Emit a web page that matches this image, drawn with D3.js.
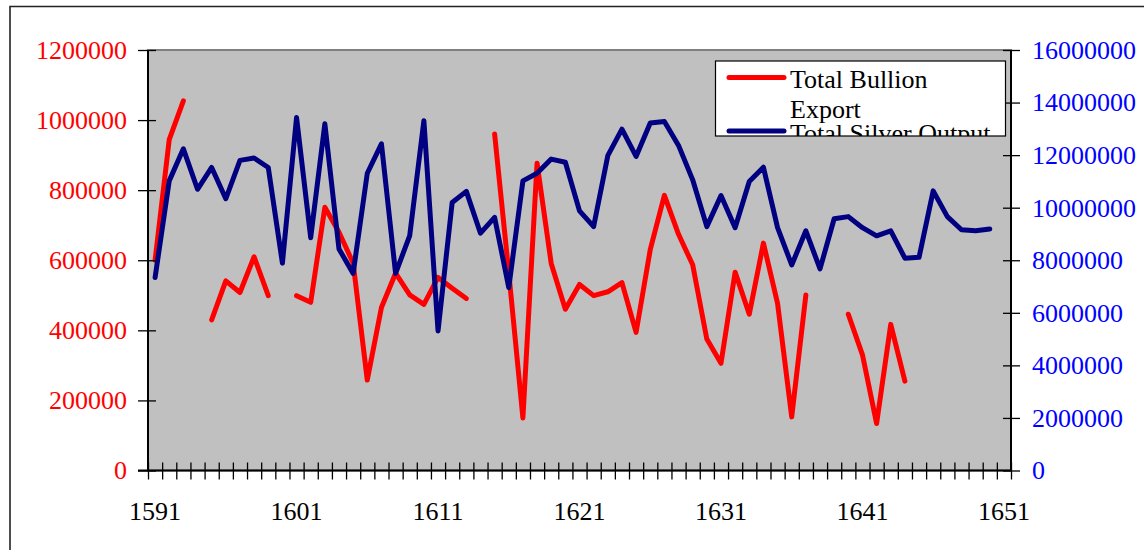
<!DOCTYPE html>
<html>
<head>
<meta charset="utf-8">
<script src="https://cdn.jsdelivr.net/npm/d3@7"></script>
<style>
  html, body { margin: 0; padding: 0; background: #fff; }
  svg { display: block; }
  text { font-family: "Liberation Serif", "Times New Roman", serif; }
</style>
</head>
<body>
<svg id="chart" width="1144" height="550"></svg>
<script>
const years = [1591,1592,1593,1594,1595,1596,1597,1598,1599,1600,
  1601,1602,1603,1604,1605,1606,1607,1608,1609,1610,
  1611,1612,1613,1614,1615,1616,1617,1618,1619,1620,
  1621,1622,1623,1624,1625,1626,1627,1628,1629,1630,
  1631,1632,1633,1634,1635,1636,1637,1638,1639,1640,
  1641,1642,1643,1644,1645,1646,1647,1648,1649,1650,1651];

const bullionExport = [600000,944000,1055000,null,430000,541000,508000,610000,499000,null,
  499000,480000,751000,680000,592000,258000,465000,563000,501000,474000,
  551000,520000,491000,null,960000,565000,150000,877000,591000,460000,
  531000,499000,510000,536000,394000,630000,785000,674000,587000,375000,
  306000,566000,446000,649000,477000,153000,501000,null,null,446000,
  330000,134000,417000,255000,null,null,null,null,null,null,null];

const silverOutput = [7340000,11020000,12240000,10700000,11530000,10340000,11800000,11890000,11530000,7890000,
  13430000,8860000,13190000,8430000,7500000,11310000,12430000,7500000,8940000,13310000,
  5310000,10200000,10620000,9030000,9630000,6960000,11020000,11310000,11850000,11730000,
  9880000,9280000,11980000,12990000,11950000,13220000,13280000,12370000,11060000,9280000,
  10460000,9240000,11000000,11540000,9240000,7820000,9120000,7670000,9580000,9660000,
  9240000,8930000,9120000,8080000,8110000,10640000,9660000,9160000,9120000,9190000,null];

const leftTicks = [0,200000,400000,600000,800000,1000000,1200000];
const rightTicks = [0,2000000,4000000,6000000,8000000,10000000,12000000,14000000,16000000];
const xLabels = [1591,1601,1611,1621,1631,1641,1651];
const legendLabels = [["Total Bullion","Export"],["Total Silver Output"]];

const svg = d3.select("#chart");
const L = 148, R = 1011, T = 50, B = 470.5;
const FS = 26;

// outer frame
svg.append("path").attr("d", "M10,552 L10,6.5 L1146,6.5")
  .attr("fill", "none").attr("stroke", "#222").attr("stroke-width", 1.6);

const x = d3.scaleBand().domain(years).range([L, R]).padding(0);
const xEdge = d3.scaleLinear().domain([0, years.length]).range([L, R]);
const yL = d3.scaleLinear().domain([0, 1200000]).range([B, T]);
const yR = d3.scaleLinear().domain([0, 16000000]).range([B, T]);

// plot area
svg.append("rect").attr("x", L).attr("y", T).attr("width", R - L).attr("height", B - T)
  .attr("fill", "#C0C0C0").attr("stroke", "#808080").attr("stroke-width", 2);

// series
const lineB = d3.line().defined(d => d.v != null)
  .x(d => x(d.year) + x.bandwidth() / 2).y(d => yL(d.v));
const lineS = d3.line().defined(d => d.v != null)
  .x(d => x(d.year) + x.bandwidth() / 2).y(d => yR(d.v));

svg.append("path").datum(years.map((y, i) => ({year: y, v: bullionExport[i]})))
  .attr("d", lineB).attr("fill", "none").attr("stroke", "#FF0000")
  .attr("stroke-width", 5).attr("stroke-linejoin", "round").attr("stroke-linecap", "round");
svg.append("path").datum(years.map((y, i) => ({year: y, v: silverOutput[i]})))
  .attr("d", lineS).attr("fill", "none").attr("stroke", "#000080")
  .attr("stroke-width", 5).attr("stroke-linejoin", "round").attr("stroke-linecap", "round");

// left axis
const gL = svg.append("g").attr("transform", `translate(${L},0)`)
  .call(d3.axisLeft(yL).tickValues(leftTicks).tickFormat(d3.format("d")).tickSize(10).tickPadding(11));
gL.selectAll(".tick line").attr("x1", 8).attr("stroke", "#000").attr("stroke-width", 1.3);
gL.select(".domain").attr("stroke", "#000").attr("stroke-width", 2).attr("d", `M0,${T}V${B}`);
gL.selectAll("text").attr("fill", "#FF0000").style("font-size", FS + "px")
  .style("font-family", '"Liberation Serif", serif');

// right axis
const gR = svg.append("g").attr("transform", `translate(${R},0)`)
  .call(d3.axisRight(yR).tickValues(rightTicks).tickFormat(d3.format("d")).tickSize(9).tickPadding(12));
gR.selectAll(".tick line").attr("x1", -8).attr("stroke", "#000").attr("stroke-width", 1.3);
gR.select(".domain").attr("stroke", "#000").attr("stroke-width", 2).attr("d", `M0,${T}V${B}`);
gR.selectAll("text").attr("fill", "#0000FF").style("font-size", FS + "px")
  .style("font-family", '"Liberation Serif", serif');

// bottom axis ticks at category edges
const gBt = svg.append("g").attr("transform", `translate(0,${B})`)
  .call(d3.axisBottom(xEdge).tickValues(d3.range(years.length + 1)).tickFormat("").tickSize(9));
gBt.selectAll(".tick line").attr("y1", -8).attr("stroke", "#000").attr("stroke-width", 1.3);
gBt.select(".domain").attr("stroke", "#000").attr("stroke-width", 2).attr("d", `M${L - 10},0H${R}`);

// bottom axis labels at category centers
const gBl = svg.append("g").attr("transform", `translate(0,${B})`)
  .call(d3.axisBottom(x).tickValues(xLabels).tickSize(0).tickPadding(31));
gBl.select(".domain").remove();
gBl.selectAll("text").attr("fill", "#000").style("font-size", FS + "px")
  .style("font-family", '"Liberation Serif", serif');

// legend
const lg = svg.append("g");
const lx0 = 715.5, ly0 = 61, lw = 290, lh = 75;
svg.append("defs").append("clipPath").attr("id", "legclip")
  .append("rect").attr("x", lx0).attr("y", ly0).attr("width", lw).attr("height", lh);
lg.append("rect").attr("x", lx0).attr("y", ly0).attr("width", lw).attr("height", lh)
  .attr("fill", "#fff").attr("stroke", "#000").attr("stroke-width", 1.2);
const lgc = lg.append("g").attr("clip-path", "url(#legclip)");
const legColors = ["#FF0000", "#000080"];
const legLineY = [77.5, 131];
const legTextY = [[88, 118], [142]];
legendLabels.forEach((lines, i) => {
  lgc.append("line").attr("x1", 729).attr("x2", 784).attr("y1", legLineY[i]).attr("y2", legLineY[i])
    .attr("stroke", legColors[i]).attr("stroke-width", 5).attr("stroke-linecap", "round");
  lines.forEach((t, j) => {
    lgc.append("text").attr("x", 790).attr("y", legTextY[i][j]).text(t)
      .attr("fill", "#000").style("font-size", FS + "px");
  });
});
</script>
</body>
</html>
